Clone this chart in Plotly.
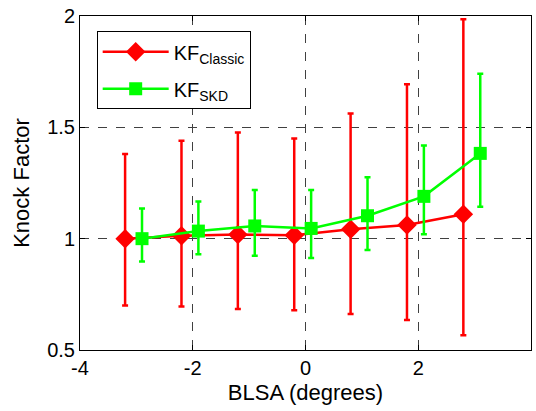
import plotly.graph_objects as go

# Data
x_classic = [-3.2, -2.2, -1.2, -0.2, 0.8, 1.8, 2.8]
kf_classic = [1.00, 1.013, 1.019, 1.015, 1.042, 1.061, 1.11]
kf_classic_upper = [1.38, 1.44, 1.477, 1.45, 1.562, 1.694, 1.985]
kf_classic_lower = [0.70, 0.695, 0.684, 0.678, 0.662, 0.635, 0.566]

x_skd = [-2.9, -1.9, -0.9, 0.1, 1.1, 2.1, 3.1]
kf_skd = [1.00, 1.034, 1.057, 1.046, 1.103, 1.19, 1.383]
kf_skd_upper = [1.135, 1.167, 1.219, 1.219, 1.276, 1.418, 1.741]
kf_skd_lower = [0.898, 0.93, 0.923, 0.913, 0.949, 1.02, 1.143]

x_ticks = [-4, -2, 0, 2, 4]
x_tick_text = ["-4", "-2", "0", "2", "4"]
y_ticks = [0.5, 1, 1.5, 2]
y_tick_text = ["0.5", "1", "1.5", "2"]

RED = "#ff0000"
GREEN = "#00ff00"

def err(vals, upper, lower):
    plus = [u - v for u, v in zip(upper, vals)]
    minus = [v - l for v, l in zip(vals, lower)]
    return plus, minus

cp, cm = err(kf_classic, kf_classic_upper, kf_classic_lower)
sp, sm = err(kf_skd, kf_skd_upper, kf_skd_lower)

fig = go.Figure()
fig.add_trace(go.Scatter(
    x=x_classic, y=kf_classic, mode="lines+markers",
    name="KF<sub>Classic</sub>", legendgroup="c",
    line=dict(color=RED, width=2.5),
    marker=dict(symbol="diamond", size=15, color=RED),
    error_y=dict(type="data", symmetric=False, array=cp, arrayminus=cm,
                 color=RED, thickness=2.5, width=3),
))
fig.add_trace(go.Scatter(
    x=x_skd, y=kf_skd, mode="lines+markers",
    name="KF<sub>SKD</sub>", legendgroup="s",
    line=dict(color=GREEN, width=2.5),
    marker=dict(symbol="square", size=13, color=GREEN),
    error_y=dict(type="data", symmetric=False, array=sp, arrayminus=sm,
                 color=GREEN, thickness=2.5, width=3),
))

axis_common = dict(
    showline=True, linecolor="black", linewidth=1, mirror="ticks",
    ticks="inside", ticklen=5, tickcolor="black",
    showgrid=True, gridcolor="#404040", griddash="dash", gridwidth=1,
    zeroline=False, automargin=False,
    tickfont=dict(family="Liberation Sans, Arial", size=20, color="black"),
)

fig.update_layout(
    width=536, height=411,
    margin=dict(l=80, r=5, t=16, b=61),
    paper_bgcolor="white", plot_bgcolor="white",
    font=dict(family="Liberation Sans, Arial", color="black"),
    xaxis=dict(range=[-4, 4], tickvals=x_ticks, ticktext=x_tick_text,
               title=dict(text="BLSA (degrees)", font=dict(size=22), standoff=6),
               **axis_common),
    yaxis=dict(range=[0.5, 2], tickvals=y_ticks, ticktext=y_tick_text,
               title=dict(text="Knock Factor", font=dict(size=22), standoff=11),
               **axis_common),
    legend=dict(x=0.037, y=0.954, xanchor="left", yanchor="top",
                bgcolor="white", bordercolor="black", borderwidth=1,
                font=dict(size=20), itemwidth=66, tracegroupgap=8),
    showlegend=True,
)

fig.write_html(
    "out.html",
    config={"displayModeBar": False},
    post_script="document.body.style.margin='0px';document.body.style.overflow='hidden';",
)
